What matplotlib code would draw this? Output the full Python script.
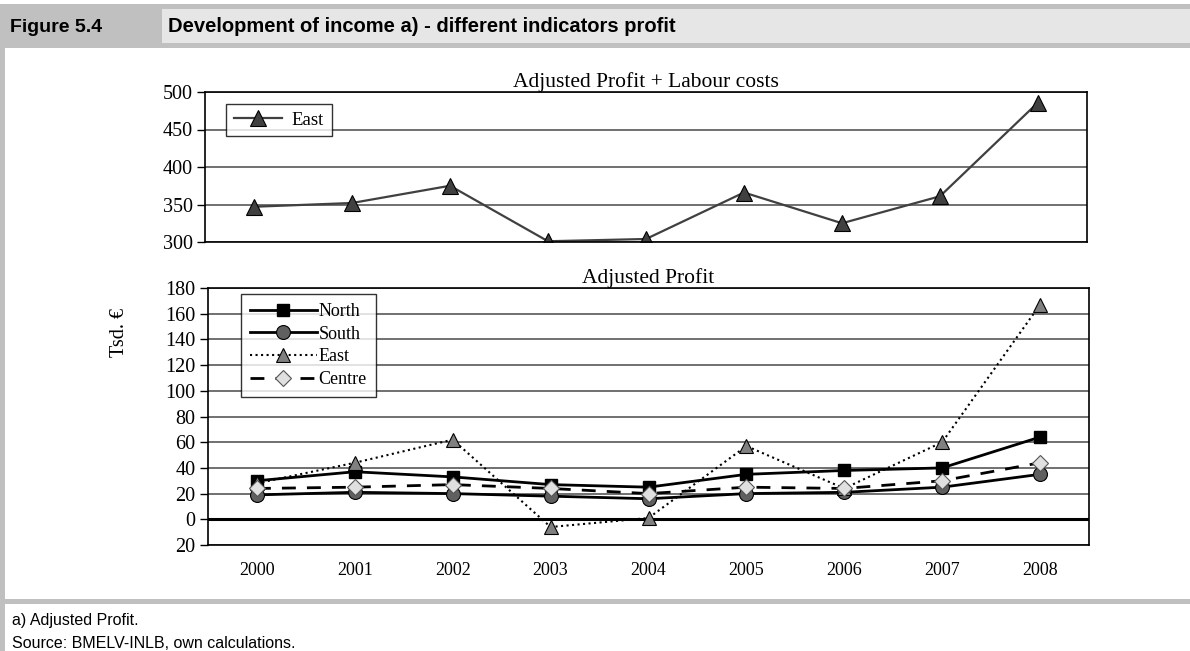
import matplotlib
matplotlib.use("Agg")
import matplotlib.pyplot as plt
from matplotlib.patches import Rectangle

# data
years = ['2000', '2001', '2002', '2003', '2004', '2005', '2006', '2007', '2008']
east_labour = [347, 352, 375, 301, 304, 366, 325, 361, 486]
north = [30, 37, 33, 27, 25, 35, 38, 40, 64]
south = [19, 21, 20, 18, 16, 20, 21, 25, 35]
east = [28, 44, 62, -6, 1, 57, 24, 60, 167]
centre = [24, 25, 27, 24, 20, 25, 24, 30, 44]
top_ticks = [300, 350, 400, 450, 500]
bot_ticks = [-20, 0, 20, 40, 60, 80, 100, 120, 140, 160, 180]
bot_labels = ['20', '0', '20', '40', '60', '80', '100', '120', '140', '160', '180']

W, H = 1190, 651
serif = ['Liberation Serif', 'DejaVu Serif']
sans = ['Liberation Sans', 'DejaVu Sans']

fig = plt.figure(figsize=(W / 100, H / 100), dpi=100)

# background frame (pixel coords)
bg = fig.add_axes([0, 0, 1, 1], zorder=-1)
bg.set_xlim(0, W)
bg.set_ylim(H, 0)
bg.axis('off')
grey = '#c0c0c0'
bg.add_patch(Rectangle((0, 4), W, 44, color=grey, lw=0))
bg.add_patch(Rectangle((162, 9), W - 162, 34, color='#e6e6e6', lw=0))
bg.add_patch(Rectangle((0, 48), 5, H - 48, color=grey, lw=0))
bg.add_patch(Rectangle((0, 599), W, 5, color=grey, lw=0))
bg.text(10, 27, 'Figure 5.4', family=sans, fontsize=14, fontweight='bold', va='center')
bg.text(168, 27, 'Development of income a) - different indicators profit', family=sans,
        fontsize=14.5, fontweight='bold', va='center')
bg.text(12, 621, 'a) Adjusted Profit.', family=sans, fontsize=11.5, va='center')
bg.text(12, 643, 'Source: BMELV-INLB, own calculations.', family=sans, fontsize=11.5, va='center')
bg.text(120, 332, 'Tsd. €', family=serif, fontsize=14.5, rotation=90, va='center', ha='center')


def pix_axes(l, t, r, b):
    return fig.add_axes([l / W, (H - b) / H, (r - l) / W, (b - t) / H])


def style(ax):
    ax.set_xlim(-0.5, len(years) - 0.5)
    for s in ax.spines.values():
        s.set_color('black')
        s.set_linewidth(1.2)
    ax.yaxis.grid(True, color='#707070', lw=1.4)
    ax.set_axisbelow(True)
    ax.tick_params(axis='y', direction='out', length=6, width=1, pad=3)
    for lab in ax.get_yticklabels():
        lab.set_family(serif)
        lab.set_fontsize(14.5)
    for lab in ax.get_xticklabels():
        lab.set_family(serif)
        lab.set_fontsize(13)


x = list(range(len(years)))

# top chart
ax1 = pix_axes(205, 92, 1087, 242)
ax1.plot(x, east_labour, color='#404040', lw=1.6, marker='^', ms=12,
         mfc='#404040', mec='black', mew=0.8, label='East')
ax1.set_ylim(300, 500)
ax1.set_yticks(top_ticks)
ax1.set_xticks(x)
ax1.set_xticklabels([])
ax1.tick_params(axis='x', length=0)
style(ax1)
ax1.set_title('Adjusted Profit + Labour costs', family=serif, fontsize=15.5, pad=3)
leg1 = ax1.legend(loc='upper left', bbox_to_anchor=(0.024, 0.92), borderaxespad=0,
                  frameon=True, fancybox=False, prop={'family': serif, 'size': 13.5},
                  handlelength=2.6, borderpad=0.4, handletextpad=0.5)
leg1.get_frame().set_edgecolor('black')
leg1.get_frame().set_linewidth(1)

# bottom chart
ax2 = pix_axes(208, 288, 1089, 545)
ax2.plot(x, north, color='black', lw=2, marker='s', ms=8, mfc='black', mec='black', label='North')
ax2.plot(x, south, color='black', lw=2, marker='o', ms=10, mfc='#606060', mec='black', mew=0.8,
         label='South')
ax2.plot(x, east, color='black', lw=1.5, ls=':', marker='^', ms=10, mfc='#808080', mec='black',
         mew=0.8, label='East')
ax2.plot(x, centre, color='black', lw=2, ls=(0, (5, 4)), marker='D', ms=8, mfc='#e0e0e0',
         mec='#555555', mew=0.8, label='Centre')
ax2.axhline(0, color='black', lw=2.2, zorder=1.5)
ax2.set_ylim(-20, 180)
ax2.set_yticks(bot_ticks)
ax2.set_yticklabels(bot_labels)
ax2.set_xticks(x)
ax2.set_xticklabels(years)
ax2.tick_params(axis='x', length=0, pad=12)
style(ax2)
ax2.set_title('Adjusted Profit', family=serif, fontsize=15.5, pad=3)
leg2 = ax2.legend(loc='upper left', bbox_to_anchor=(0.0375, 0.977), borderaxespad=0,
                  frameon=True, fancybox=False, prop={'family': serif, 'size': 13},
                  handlelength=3.7, borderpad=0.5, labelspacing=0.32, handletextpad=0.1)
leg2.get_frame().set_edgecolor('black')
leg2.get_frame().set_linewidth(1)

fig.savefig('out.png', dpi=100)
